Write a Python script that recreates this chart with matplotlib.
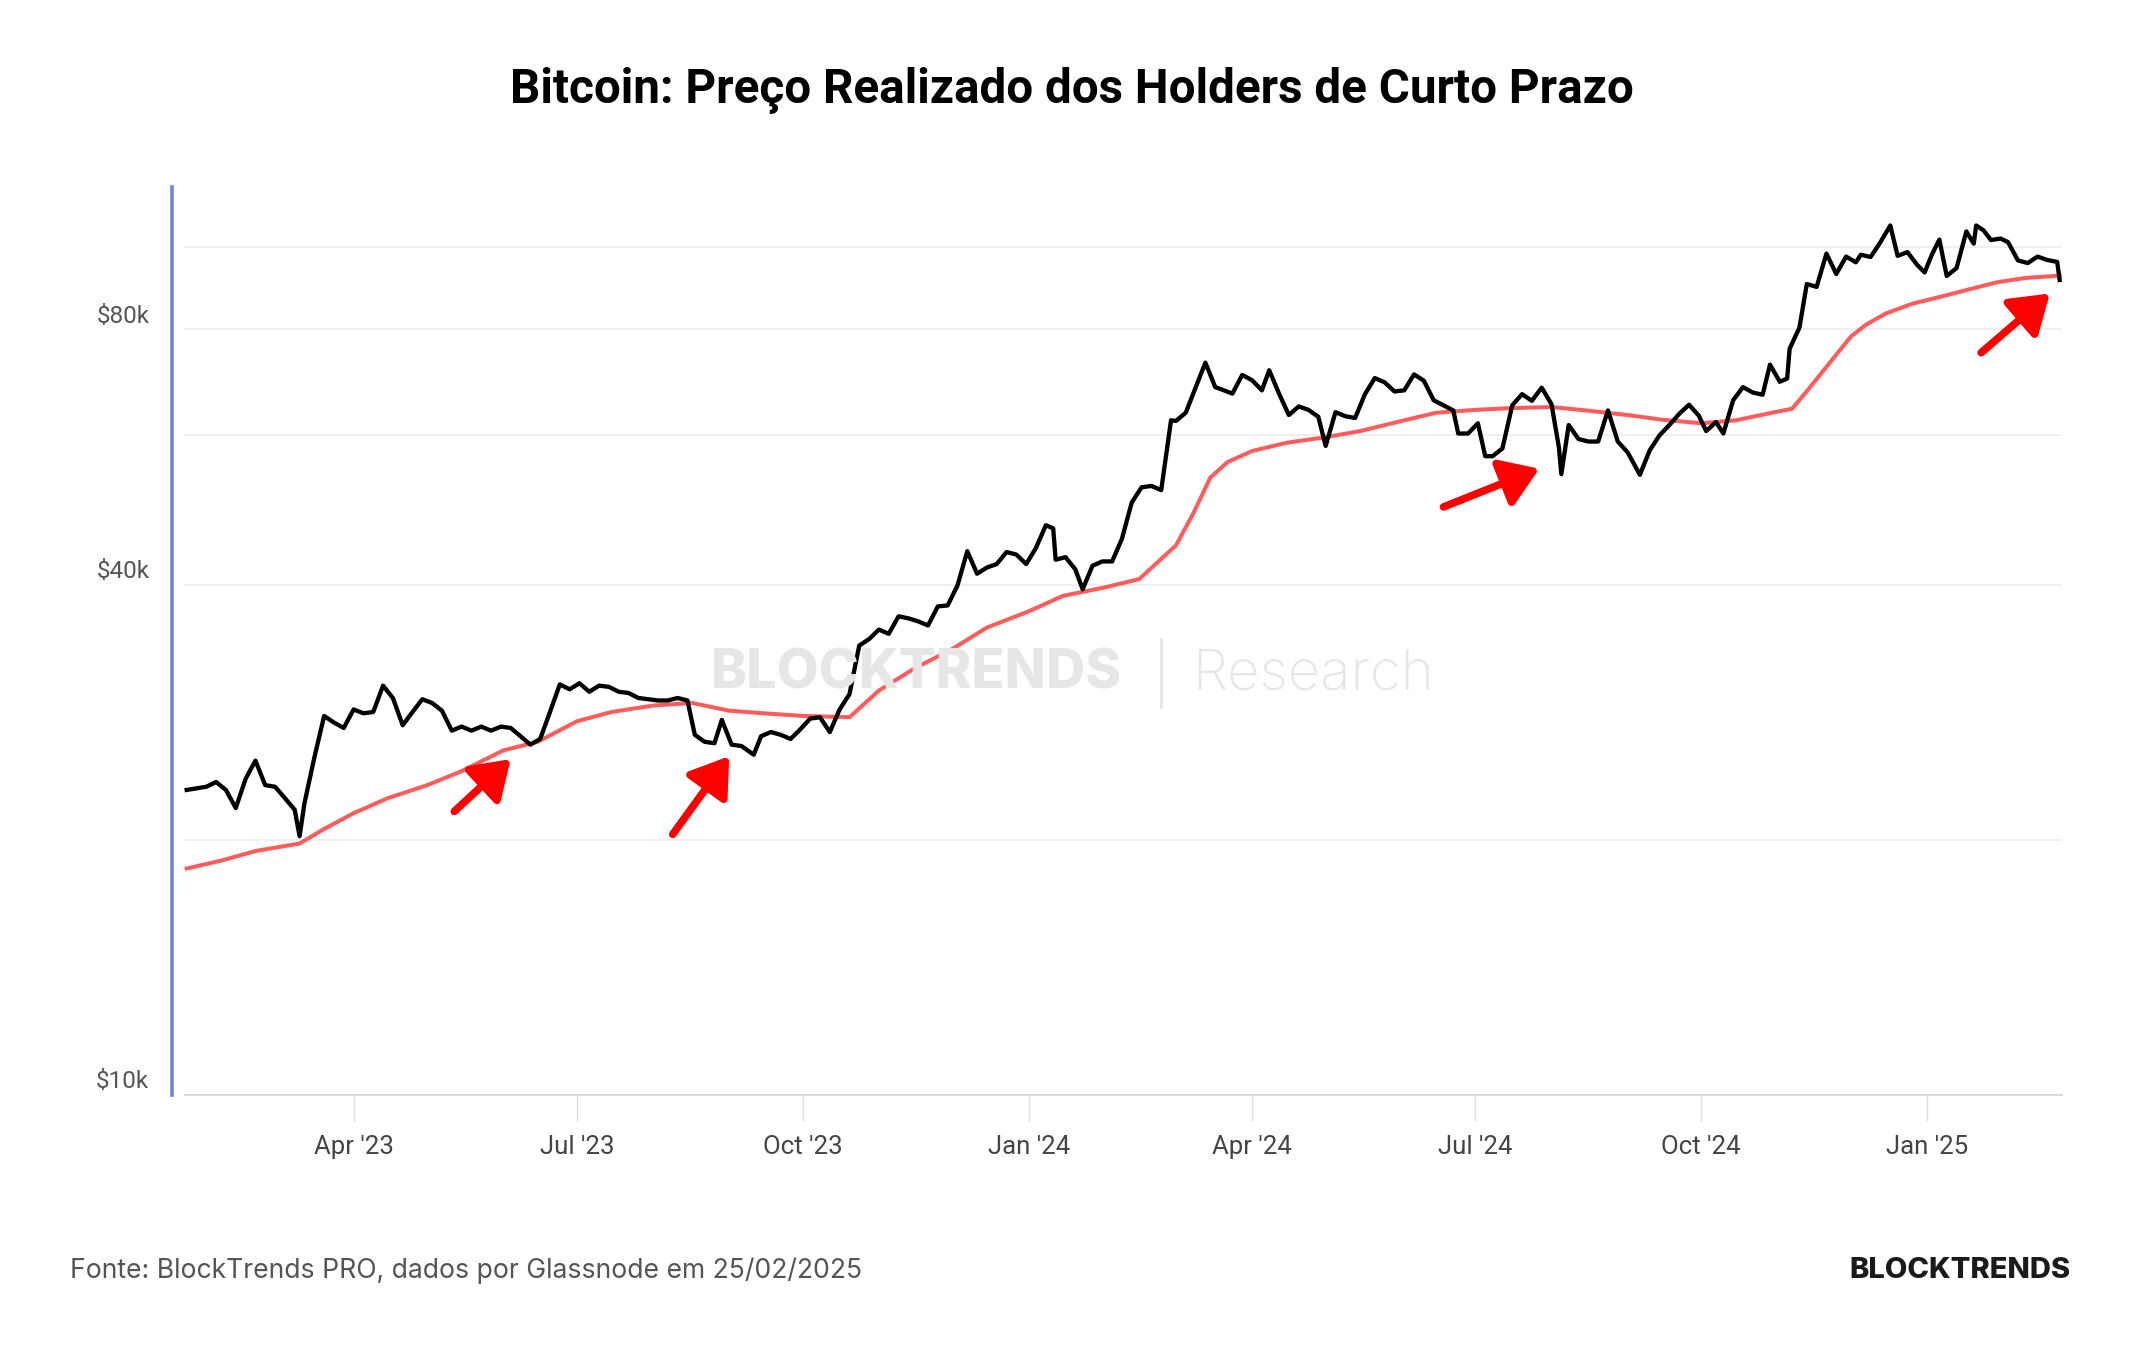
import pandas as pd
import matplotlib
matplotlib.use("Agg")
import matplotlib.pyplot as plt
import matplotlib.dates as mdates
from matplotlib.transforms import ScaledTranslation

# BTC price (USD)
price_dates = [
    "2023-01-23", "2023-01-27", "2023-01-31", "2023-02-04", "2023-02-08", "2023-02-12",
    "2023-02-16", "2023-02-20", "2023-02-24", "2023-02-28", "2023-03-04", "2023-03-08",
    "2023-03-10", "2023-03-12", "2023-03-16", "2023-03-20", "2023-03-24", "2023-03-28",
    "2023-04-01", "2023-04-05", "2023-04-09", "2023-04-13", "2023-04-17", "2023-04-21",
    "2023-04-25", "2023-04-29", "2023-05-03", "2023-05-07", "2023-05-11", "2023-05-15",
    "2023-05-19", "2023-05-23", "2023-05-27", "2023-05-31", "2023-06-04", "2023-06-08",
    "2023-06-12", "2023-06-16", "2023-06-20", "2023-06-24", "2023-06-28", "2023-07-02",
    "2023-07-06", "2023-07-10", "2023-07-14", "2023-07-18", "2023-07-22", "2023-07-26",
    "2023-07-30", "2023-08-03", "2023-08-07", "2023-08-11", "2023-08-15", "2023-08-18",
    "2023-08-22", "2023-08-26", "2023-08-29", "2023-09-02", "2023-09-06", "2023-09-11",
    "2023-09-14", "2023-09-18", "2023-09-22", "2023-09-26", "2023-09-30", "2023-10-04",
    "2023-10-08", "2023-10-12", "2023-10-16", "2023-10-20", "2023-10-24", "2023-10-28",
    "2023-11-01", "2023-11-05", "2023-11-09", "2023-11-13", "2023-11-17", "2023-11-21",
    "2023-11-25", "2023-11-29", "2023-12-03", "2023-12-07", "2023-12-11", "2023-12-15",
    "2023-12-19", "2023-12-23", "2023-12-27", "2023-12-31", "2024-01-04", "2024-01-08",
    "2024-01-11", "2024-01-12", "2024-01-16", "2024-01-20", "2024-01-23", "2024-01-27",
    "2024-01-31", "2024-02-04", "2024-02-08", "2024-02-12", "2024-02-16", "2024-02-20",
    "2024-02-24", "2024-02-28", "2024-03-01", "2024-03-05", "2024-03-09", "2024-03-13",
    "2024-03-17", "2024-03-20", "2024-03-24", "2024-03-28", "2024-04-01", "2024-04-05",
    "2024-04-08", "2024-04-12", "2024-04-16", "2024-04-20", "2024-04-24", "2024-04-28",
    "2024-05-01", "2024-05-05", "2024-05-09", "2024-05-13", "2024-05-17", "2024-05-21",
    "2024-05-25", "2024-05-29", "2024-06-02", "2024-06-06", "2024-06-10", "2024-06-14",
    "2024-06-18", "2024-06-22", "2024-06-24", "2024-06-28", "2024-07-02", "2024-07-05",
    "2024-07-08", "2024-07-12", "2024-07-16", "2024-07-20", "2024-07-24", "2024-07-28",
    "2024-08-01", "2024-08-04", "2024-08-05", "2024-08-08", "2024-08-12", "2024-08-16",
    "2024-08-20", "2024-08-24", "2024-08-28", "2024-09-01", "2024-09-06", "2024-09-10",
    "2024-09-14", "2024-09-18", "2024-09-22", "2024-09-26", "2024-09-30", "2024-10-03",
    "2024-10-07", "2024-10-10", "2024-10-14", "2024-10-18", "2024-10-22", "2024-10-26",
    "2024-10-29", "2024-11-02", "2024-11-05", "2024-11-06", "2024-11-10", "2024-11-13",
    "2024-11-17", "2024-11-21", "2024-11-25", "2024-11-29", "2024-12-03", "2024-12-05",
    "2024-12-09", "2024-12-13", "2024-12-17", "2024-12-20", "2024-12-24", "2024-12-28",
    "2024-12-31", "2025-01-03", "2025-01-06", "2025-01-09", "2025-01-13", "2025-01-17",
    "2025-01-20", "2025-01-21", "2025-01-24", "2025-01-27", "2025-01-31", "2025-02-03",
    "2025-02-07", "2025-02-11", "2025-02-15", "2025-02-19", "2025-02-23", "2025-02-24",
]
price_values = [
    22900, 23000, 23100, 23400, 22900, 21800,
    23600, 24800, 23200, 23100, 22400, 21700,
    20200, 22100, 25000, 28000, 27500, 27100,
    28500, 28200, 28300, 30400, 29400, 27300,
    28300, 29300, 29000, 28400, 26900, 27200,
    26900, 27200, 26900, 27200, 27100, 26500,
    25900, 26300, 28300, 30500, 30100, 30600,
    29900, 30400, 30300, 29900, 29800, 29400,
    29300, 29200, 29200, 29400, 29200, 26600,
    26100, 26000, 27700, 25900, 25800, 25200,
    26500, 26800, 26600, 26300, 27000, 27800,
    27900, 26800, 28500, 29700, 33900, 34500,
    35400, 35000, 36700, 36500, 36200, 35800,
    37700, 37800, 39900, 43800, 41200, 41900,
    42300, 43700, 43400, 42300, 44200, 47000,
    46600, 42800, 43100, 41700, 39500, 42100,
    42600, 42600, 45300, 50000, 52100, 52300,
    51700, 62500, 62400, 63800, 68300, 73100,
    68400, 67900, 67200, 70700, 69700, 67800,
    71600, 67200, 63400, 64900, 64300, 63100,
    58300, 63900, 63200, 62900, 67100, 70100,
    69300, 67600, 67800, 70800, 69600, 66000,
    65100, 64200, 60300, 60300, 62000, 56700,
    56700, 57900, 65100, 67100, 65900, 68300,
    65300, 58100, 54000, 61700, 59400, 59000,
    59000, 64200, 59000, 57300, 53900, 57600,
    60000, 61700, 63600, 65200, 63300, 60700,
    62200, 60300, 66000, 68400, 67400, 67000,
    72700, 69400, 70000, 75900, 80400, 90500,
    89800, 98300, 93000, 97500, 96000, 98000,
    97400, 101400, 106100, 97700, 98700, 95300,
    93400, 98100, 102100, 92500, 94500, 104400,
    101000, 106100, 104700, 102000, 102400, 101400,
    96500, 95800, 97500, 96600, 96100, 91500,
]

# short-term holder realized price (USD)
sth_dates = [
    "2023-01-23", "2023-02-06", "2023-02-20", "2023-03-10", "2023-03-20", "2023-04-01",
    "2023-04-15", "2023-05-01", "2023-05-15", "2023-06-01", "2023-06-15", "2023-07-01",
    "2023-07-15", "2023-08-01", "2023-08-17", "2023-09-01", "2023-09-15", "2023-10-01",
    "2023-10-20", "2023-11-01", "2023-11-15", "2023-12-01", "2023-12-15", "2024-01-01",
    "2024-01-15", "2024-02-01", "2024-02-15", "2024-03-01", "2024-03-08", "2024-03-15",
    "2024-03-22", "2024-04-01", "2024-04-15", "2024-05-01", "2024-05-15", "2024-06-01",
    "2024-06-15", "2024-07-01", "2024-07-15", "2024-08-01", "2024-08-15", "2024-09-01",
    "2024-09-15", "2024-10-01", "2024-10-15", "2024-11-01", "2024-11-07", "2024-11-14",
    "2024-11-23", "2024-12-01", "2024-12-07", "2024-12-15", "2024-12-26", "2025-01-09",
    "2025-01-20", "2025-01-30", "2025-02-10", "2025-02-24",
]
sth_values = [
    18500, 18900, 19400, 19800, 20600, 21500,
    22400, 23200, 24100, 25500, 26100, 27600,
    28300, 28800, 29000, 28400, 28200, 28000,
    27900, 30000, 31800, 33600, 35600, 37200,
    38800, 39700, 40600, 44500, 48500, 53500,
    55800, 57500, 58800, 59700, 60700, 62400,
    63800, 64300, 64600, 64800, 64200, 63400,
    62600, 62000, 62500, 64000, 64500, 68200,
    73500, 78500, 81000, 83500, 85800, 87800,
    89500, 91000, 92000, 92600,
]

# red arrows: (tail date, tail price, head date, head price)
arrow_marks = [
    ("2023-05-12", 21600, "2023-06-04", 24900),
    ("2023-08-09", 20300, "2023-09-01", 25100),
    ("2024-06-18", 49400, "2024-07-27", 54800),
    ("2025-01-23", 75100, "2025-02-20", 88200),
]

grid_levels = [20000, 40000, 60000, 80000, 100000]
ylabel_levels = [10000, 40000, 80000]
ylabel_texts = ["$10k", "$40k", "$80k"]

fig = plt.figure(figsize=(21.44, 13.5), dpi=100)
ax = fig.add_axes([0.0802, 0.1889, 0.8816, 0.6726])

px = pd.to_datetime(price_dates)
sx = pd.to_datetime(sth_dates)

ax.set_yscale("log")
ax.set_ylim(10000, 117800)
ax.set_xlim(pd.Timestamp("2023-01-17"), pd.Timestamp("2025-02-25"))

for lv in grid_levels:
    ax.axhline(lv, xmin=0.007, color="#eeeeee", lw=1.3, zorder=0)
ax.axhline(10000, xmin=0.007, color="#dadada", lw=1.5, zorder=1, clip_on=False)

ax.plot(sx, sth_values, color="#ff5c5c", lw=2.9, zorder=2)
ax.plot(px, price_values, color="black", lw=3.1, zorder=3)

for t0, p0, t1, p1 in arrow_marks:
    ax.annotate("", xy=(pd.Timestamp(t1), p1), xytext=(pd.Timestamp(t0), p0),
                arrowprops=dict(arrowstyle="-|>,head_length=0.75,head_width=0.5",
                                color="#ff0000", lw=5.5, mutation_scale=30,
                                capstyle="round", shrinkA=0, shrinkB=0),
                zorder=5)

# axes styling
for side in ["top", "right", "bottom"]:
    ax.spines[side].set_visible(False)
ax.spines["left"].set_color("#6a86e0")
ax.spines["left"].set_linewidth(2.6)

ax.yaxis.set_major_locator(plt.NullLocator())
ax.yaxis.set_minor_locator(plt.NullLocator())
ax.tick_params(axis="y", length=0)

lab_tr = ax.get_yaxis_transform() + ScaledTranslation(0, 0.13, fig.dpi_scale_trans)
for lv, txt in zip(ylabel_levels, ylabel_texts):
    ax.text(-0.012, lv, txt, transform=lab_tr, ha="right", va="center",
            fontsize=17.5, color="#555555", family="Roboto")

ax.xaxis.set_major_locator(mdates.MonthLocator(bymonth=[1, 4, 7, 10]))
ax.xaxis.set_major_formatter(mdates.DateFormatter("%b '%y"))
ax.tick_params(axis="x", length=19, width=1, color="#dddddd", pad=10,
               labelsize=18.5, labelcolor="#444444")
for lab in ax.get_xticklabels():
    lab.set_family("Roboto")

# watermark
wm = "#e6e6e6"
fig.text(0.4276, 0.5007, "BLOCKTRENDS", ha="center", va="center", fontsize=39,
         color=wm, weight="heavy", family="Inter", zorder=0)
fig.text(0.6125, 0.5007, "Research", ha="center", va="center", fontsize=40.5,
         color=wm, weight="light", family="Inter", zorder=0)
fig.add_artist(plt.Line2D([0.5415, 0.5415], [0.476, 0.527], color=wm, lw=2,
                          transform=fig.transFigure))

fig.text(0.5, 0.933, "Bitcoin: Preço Realizado dos Holders de Curto Prazo",
         ha="center", va="center", fontsize=34.3, weight="bold", family="Roboto")
fig.text(0.0327, 0.059, "Fonte: BlockTrends PRO, dados por Glassnode em 25/02/2025",
         ha="left", va="center", fontsize=19.1, color="#555555", family="Inter")
fig.text(0.9655, 0.059, "BLOCKTRENDS", ha="right", va="center", fontsize=21,
         color="#1a1a1a", weight="heavy", family="Inter")

fig.savefig("out.png", dpi=100, facecolor="white")
